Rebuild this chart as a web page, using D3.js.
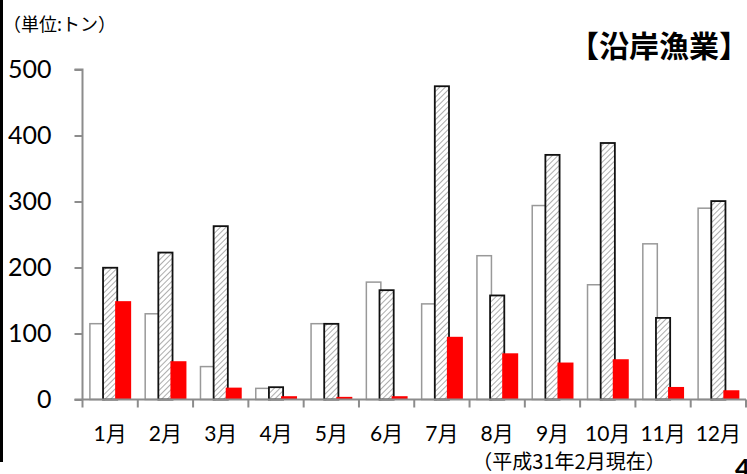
<!DOCTYPE html>
<html>
<head>
<meta charset="utf-8">
<script src="https://cdn.jsdelivr.net/npm/d3@7"></script>
<style>
  html, body { margin: 0; padding: 0; background: #fff; }
  svg { display: block; }
  text { font-family: "Lato", "Noto Sans CJK JP", sans-serif; fill: #000; }
  .cjk { font-family: "Noto Sans CJK JP", sans-serif; }
</style>
</head>
<body>
<script>
// Monthly catch (tonnes), coastal fisheries
const months = ["1月","2月","3月","4月","5月","6月","7月","8月","9月","10月","11月","12月"];
const catchH29 = [116, 131, 51, 18, 116, 179, 146, 219, 295, 175, 237, 291];
const catchH30 = [201, 224, 264, 20, 116, 167, 476, 159, 372, 390, 125, 302];
const catchH31 = [149, 58, 18, 5, 4, 5, 95, 70, 56, 61, 19, 14];
const yTicks = [0, 100, 200, 300, 400, 500];

const W = 747, H = 474;
const svg = d3.select("body").append("svg").attr("width", W).attr("height", H);

// diagonal hatch for the middle series
const defs = svg.append("defs");
const pat = defs.append("pattern")
  .attr("id", "hatch")
  .attr("patternUnits", "userSpaceOnUse")
  .attr("width", 4).attr("height", 4)
  .attr("patternTransform", "rotate(45)");
pat.append("rect").attr("width", 4).attr("height", 4).attr("fill", "#fff");
pat.append("line").attr("x1", 0).attr("y1", 0).attr("x2", 0).attr("y2", 4)
  .attr("stroke", "#808080").attr("stroke-width", 1.3);

const x = d3.scaleBand().domain(months).range([82.5, 746]).paddingInner(0).paddingOuter(0);
const y = d3.scaleLinear().domain([0, 500]).range([399.5, 69.5]);

// bars: width 16, step 13 so neighbours overlap slightly
const barW = 16, step = 13;
const groupW = barW + step * 2;
const off = (x.bandwidth() - groupW) / 2;

const series = [
  { vals: catchH29, fill: "#fff", stroke: "#999", sw: 1.5, i: 0 },
  { vals: catchH30, fill: "url(#hatch)", stroke: "#111", sw: 1.8, i: 1 },
  { vals: catchH31, fill: "#ff0000", stroke: "none", sw: 0, i: 2 }
];

series.forEach(s => {
  svg.append("g").selectAll("rect")
    .data(months.map((m, k) => ({ m, v: s.vals[k] })))
    .join("rect")
    .attr("x", d => x(d.m) + off + s.i * step + s.sw / 2)
    .attr("y", d => y(d.v) + s.sw / 2)
    .attr("width", barW - s.sw)
    .attr("height", d => Math.max(0, y(0) - y(d.v) - s.sw / 2))
    .attr("fill", s.fill)
    .attr("stroke", s.stroke)
    .attr("stroke-width", s.sw);
});

// y axis
const yAxis = svg.append("g")
  .attr("transform", "translate(82.5,0)")
  .call(d3.axisLeft(y).tickValues(yTicks).tickSize(8).tickPadding(23).tickFormat(d3.format("d")));
yAxis.select(".domain").attr("stroke", "#8c8c8c").attr("stroke-width", 2)
  .attr("d", "M-8,69.5H0V399.5");
yAxis.selectAll(".tick line").attr("stroke", "#8c8c8c").attr("stroke-width", 2);
yAxis.selectAll(".tick text").attr("font-size", 25).style("font-family", "Lato, sans-serif").attr("fill", "#000");

// x axis with tick marks on category boundaries
const xAxisG = svg.append("g").attr("transform", "translate(0,399.5)");
xAxisG.append("line").attr("x1", 74.5).attr("x2", 746).attr("y1", 0).attr("y2", 0)
  .attr("stroke", "#8c8c8c").attr("stroke-width", 2);
xAxisG.selectAll("line.b")
  .data(months.concat(["end"]))
  .join("line")
  .attr("class", "b")
  .attr("x1", (d, k) => k < months.length ? x(d) : x.range()[1])
  .attr("x2", (d, k) => k < months.length ? x(d) : x.range()[1])
  .attr("y1", 0).attr("y2", 8)
  .attr("stroke", "#8c8c8c").attr("stroke-width", 2);
xAxisG.selectAll("text")
  .data(months)
  .join("text")
  .attr("x", d => x(d) + x.bandwidth() / 2)
  .attr("y", 41)
  .attr("text-anchor", "middle")
  .attr("font-size", 21)
  .text(d => d);

// titles and notes
svg.append("text").attr("class", "cjk").attr("x", 3).attr("y", 31).attr("font-size", 18).text("（単位:トン）");
svg.append("text").attr("class", "cjk").attr("x", 569).attr("y", 57)
  .attr("font-size", 30).attr("font-weight", "bold").text("【沿岸漁業】");
svg.append("text").attr("class", "cjk").attr("x", 569).attr("y", 469).attr("text-anchor", "middle")
  .attr("font-size", 20).text("（平成31年2月現在）");

// page edge mark and page number
svg.append("rect").attr("x", 0).attr("y", 0).attr("width", 3).attr("height", 462).attr("fill", "#000");
svg.append("text").attr("x", 735).attr("y", 478).attr("font-size", 26).attr("font-weight", "bold").text("4");
</script>
</body>
</html>
